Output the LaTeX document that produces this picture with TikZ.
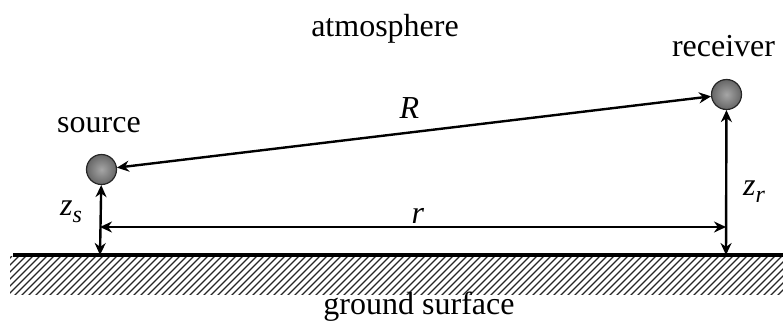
\documentclass[tikz,border=0pt]{standalone}
\usepackage{fontspec}
\setmainfont{Liberation Serif}[ItalicFont={Liberation Serif Italic}]
\usetikzlibrary{arrows.meta,calc,positioning}
\tikzset{
  ball/.style  = {circle, draw=black!85, line width=1.2pt, inner color=gray!70,
                  outer color=black!60, minimum size=30pt, inner sep=0pt},
  dim/.style   = {{Stealth[length=12pt,width=11pt]}-{Stealth[length=12pt,width=11pt]},
                  line width=2.4pt},
  lab/.style   = {font=\fontsize{32}{36}\selectfont, anchor=base, inner sep=0pt},
  ground/.style= {line width=3.5pt},
  hatch/.style = {line width=1.1pt, black!85},
}
\newcommand{\sublab}[2]{\textit{#1}\raisebox{-7pt}{\fontsize{24}{26}\selectfont\textit{#2}}}
\begin{document}
\begin{tikzpicture}[x=1pt,y=-1pt]
  \useasboundingbox (0,0) rectangle (783,327);
  % ground with hatching
  \begin{scope}
    \clip (10,256) rectangle (783,294);
    \foreach \i in {12,19,...,830} {\draw[hatch] (\i,256) -- (\i-40,296);}
  \end{scope}
  \coordinate (gl) at (13,255);
  \coordinate (gr) at (783,255);
  \draw[ground] (gl) -- (gr);
  % source and receiver
  \node[ball] (src) at (101.5,169.5) {};
  \node[ball] (rcv) at (726.5,94.5) {};
  \coordinate (sg) at (100,255);
  \coordinate (rg) at (726,255);
  \coordinate (ra) at (100,227);
  \coordinate (rb) at (726,227);
  % distances
  \draw[dim] (rcv) -- (src);
  \draw[dim] (sg) -- (src);
  \draw[dim] (rg) -- (rcv);
  \draw[dim] (ra) -- (rb);
  % labels
  \node[lab] (atm) at (385,36) {atmosphere};
  \node[lab] (srclab) at (99,132) {source};
  \node[lab] (rcvlab) at (723.5,56) {receiver};
  \node[lab] (gnd) at (419,314) {ground surface};
  \node[lab] (Rlab) at (409.5,118) {\textit{R}};
  \node[lab] (rlab) at (418,223) {\textit{r}};
  \node[lab] (zslab) at (71,215) {\sublab{z}{s}};
  \node[lab] (zrlab) at (754,195) {\sublab{z}{r}};
\end{tikzpicture}
\end{document}
